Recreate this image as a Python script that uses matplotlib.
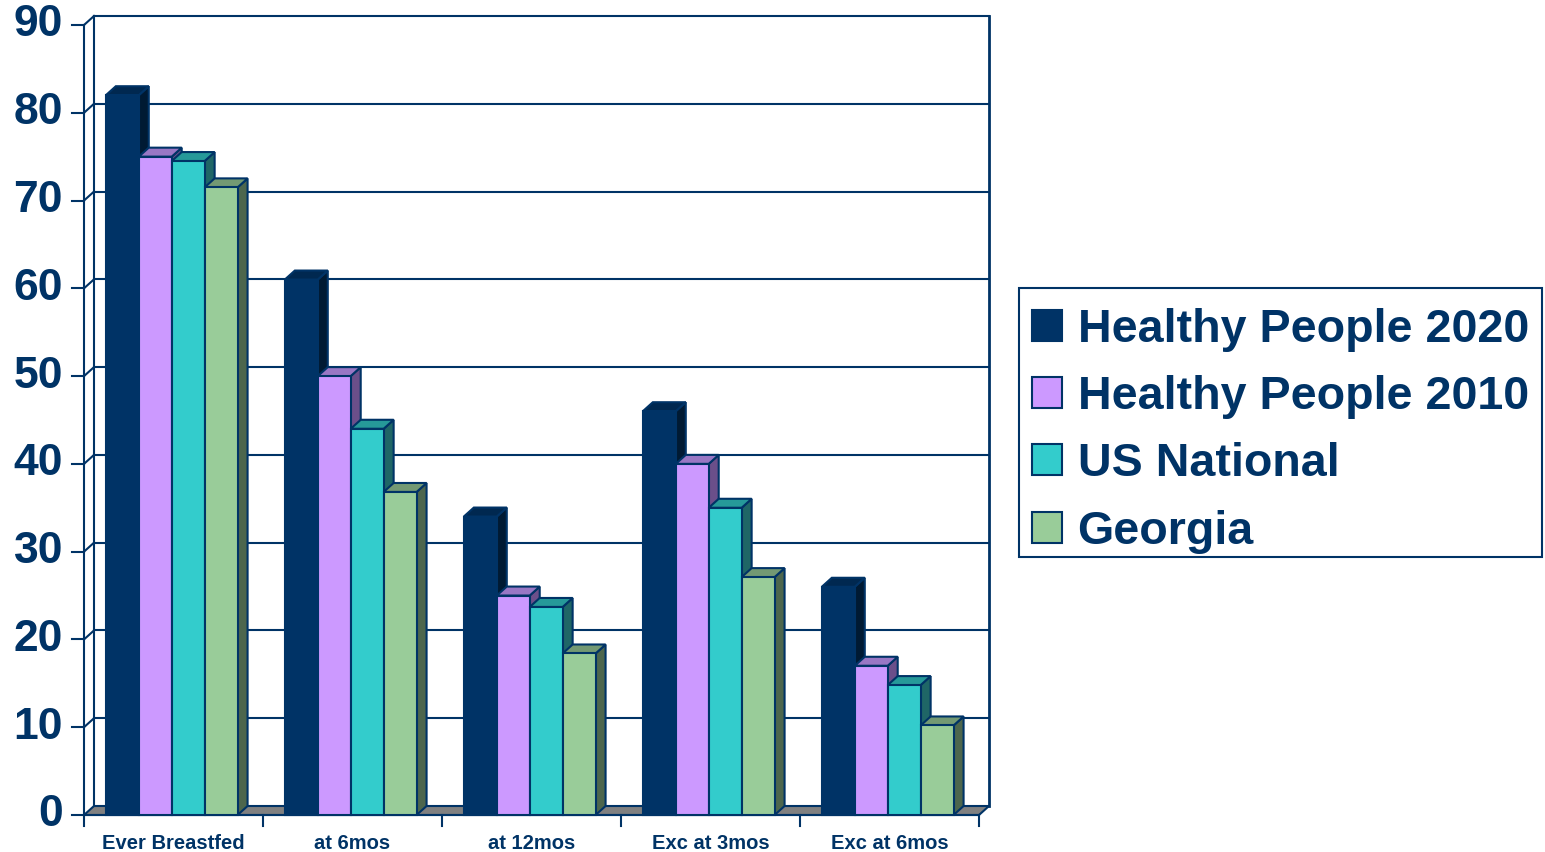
import numpy as np
import matplotlib.pyplot as plt
from matplotlib.patches import Polygon, Patch, Rectangle

categories = ["Ever Breastfed", "at 6mos", "at 12mos", "Exc at 3mos", "Exc at 6mos"]
series = ["Healthy People 2020", "Healthy People 2010", "US National", "Georgia"]
hp2020 = [82, 61, 34, 46, 26]
hp2010 = [75, 50, 25, 40, 17]
us_nat = [74.5, 44, 23.7, 35, 14.8]
georgia = [71.5, 36.8, 18.4, 27.1, 10.2]
yticks = [0, 10, 20, 30, 40, 50, 60, 70, 80, 90]

navy = "#003366"
# front, top, side colours per series
front = ["#003366", "#CC99FF", "#33CCCC", "#99CC99"]
top = ["#002850", "#9977C4", "#269999", "#739973"]
side = ["#001A33", "#6B4F8A", "#1F6666", "#4D664D"]

W, H = 1545, 852
fig = plt.figure(figsize=(W / 100, H / 100), dpi=100)
ax = fig.add_axes([84 / W, 37 / H, 905 / W, 799 / H])

dx = 10 / 179.0   # depth offset in data units
dy = 9 / 8.778
ax.set_xlim(0, len(categories) + dx)
ax.set_ylim(0, 90 + dy)
ax.axis("off")

ymax = yticks[-1]
n = len(categories)
lw = 1.5

# floor
ax.add_patch(Polygon([(0, 0), (n, 0), (n + dx, dy), (dx, dy)], closed=True,
                     facecolor="#808080", edgecolor=navy, lw=lw, zorder=1, clip_on=False))
# back wall gridlines and frame
for v in yticks[1:]:
    ax.plot([dx, n + dx], [v + dy, v + dy], color=navy, lw=lw, zorder=1, clip_on=False)
    ax.plot([0, dx], [v, v + dy], color=navy, lw=lw, zorder=1, clip_on=False)
ax.plot([n + dx, n + dx], [dy, ymax + dy], color=navy, lw=2, zorder=1, clip_on=False)
ax.plot([dx, dx], [dy, ymax + dy], color=navy, lw=lw, zorder=1, clip_on=False)
ax.plot([0, 0], [0, ymax], color=navy, lw=lw, zorder=1, clip_on=False)

# y ticks and labels
for v in yticks:
    ax.plot([-0.067, 0], [v, v], color=navy, lw=lw, clip_on=False)
    ax.text(-0.117, v, str(v), ha="right", va="center", fontsize=32,
            fontweight="bold", color=navy, family="Liberation Sans")

# x ticks and labels
ax.plot([0, n], [0, 0], color=navy, lw=lw, zorder=1, clip_on=False)
for i in range(n + 1):
    ax.plot([i, i], [0, -1.3], color=navy, lw=lw, clip_on=False)
for i, c in enumerate(categories):
    ax.text(i + 0.5, -3.2, c, ha="center", va="center", fontsize=14.5,
            fontweight="bold", color=navy, family="Liberation Sans")

# bars
data = [hp2020, hp2010, us_nat, georgia]
bw = 0.184
start = (1 - bw * len(series)) / 2 - 0.01
for i in range(n):
    for j, vals in enumerate(data):
        v = vals[i]
        x0 = i + start + j * bw
        x1 = x0 + bw
        z = 3 + i * 10 + j
        ax.add_patch(Polygon([(x1, 0), (x1 + dx, dy), (x1 + dx, v + dy), (x1, v)],
                             closed=True, facecolor=side[j], edgecolor=navy, lw=lw,
                             zorder=z, clip_on=False))
        ax.add_patch(Polygon([(x0, v), (x1, v), (x1 + dx, v + dy), (x0 + dx, v + dy)],
                             closed=True, facecolor=top[j], edgecolor=navy, lw=lw,
                             zorder=z, clip_on=False))
        ax.bar(x0, v, bw, align="edge", color=front[j], edgecolor=navy, lw=lw,
               zorder=z + 0.5, clip_on=False)

# legend: frame drawn separately so the entries can sit a bit lower
fig.patches.append(Rectangle((1019 / W, 1 - 557 / H), 523 / W, 269 / H,
                             transform=fig.transFigure, facecolor="white",
                             edgecolor=navy, lw=1.5, zorder=0))
handles = [Patch(facecolor=front[j], edgecolor=navy, lw=1.5) for j in range(len(series))]
leg = fig.legend(handles, series, loc="center",
                 bbox_to_anchor=((1019 + 1542) / 2 / W, 1 - (288 + 557 + 16) / 2 / H),
                 prop={"family": "Liberation Sans", "weight": "bold", "size": 33.6},
                 labelcolor=navy, frameon=False,
                 handlelength=0.64, handleheight=0.64, handletextpad=0.33,
                 labelspacing=0.5, borderpad=0.28)

fig.savefig("out.png", dpi=100, facecolor="white")
